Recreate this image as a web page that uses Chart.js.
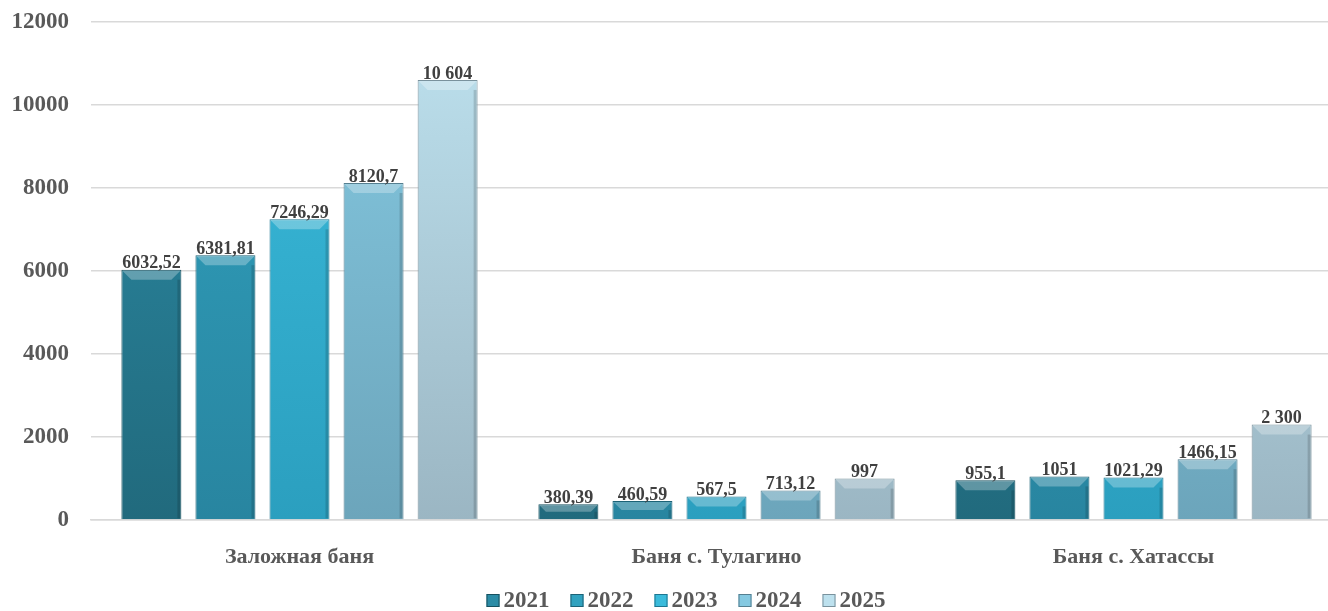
<!DOCTYPE html>
<html>
<head>
<meta charset="utf-8">
<script src="https://cdn.jsdelivr.net/npm/chart.js@4"></script>
<style>
  html, body { margin: 0; padding: 0; background: #fff; overflow: hidden; }
  #wrap { width: 1342px; height: 611px; }
</style>
</head>
<body>
<div id="wrap"><canvas id="myChart"></canvas></div>
<script>
var categories = ["Заложная баня", "Баня с. Тулагино", "Баня с. Хатассы"];
var years = ["2021", "2022", "2023", "2024", "2025"];
var values2021 = [6032.52, 380.39, 955.1];
var values2022 = [6381.81, 460.59, 1051];
var values2023 = [7246.29, 567.5, 1021.29];
var values2024 = [8120.7, 713.12, 1466.15];
var values2025 = [10604, 997, 2300];
var shownLabels = [
  ["6032,52", "380,39", "955,1"],
  ["6381,81", "460,59", "1051"],
  ["7246,29", "567,5", "1021,29"],
  ["8120,7", "713,12", "1466,15"],
  ["10 604", "997", "2 300"]
];
var yTicks = [0, 2000, 4000, 6000, 8000, 10000, 12000];

var topColors = ["#2c8ca6", "#31a2bf", "#3abbdb", "#85c9e1", "#bde1ee"];
var bottomColors = ["#216a7d", "#2885a0", "#2b9fbf", "#6ca5bb", "#9bb6c3"];
var edgeColors = ["#17505f", "#1d6276", "#1f7690", "#557f90", "#7a929d"];

var serif = '"Liberation Serif", "Times New Roman", serif';

function barFill(i) {
  return function (c) {
    var area = c.chart.chartArea;
    if (!area) return topColors[i];
    var g = c.chart.ctx.createLinearGradient(0, area.top, 0, area.bottom);
    g.addColorStop(0, topColors[i]);
    g.addColorStop(1, bottomColors[i]);
    return g;
  };
}

var allValues = [values2021, values2022, values2023, values2024, values2025];
var datasets = years.map(function (y, i) {
  return {
    label: y,
    data: allValues[i],
    backgroundColor: barFill(i),
    borderColor: edgeColors[i],
    borderWidth: 1,
    barPercentage: 0.81,
    categoryPercentage: 0.888
  };
});

// bevel on the bars, value labels and the legend row
var extras = {
  id: 'extras',
  afterDatasetsDraw: function (chart) {
    var ctx = chart.ctx;
    ctx.save();
    chart.data.datasets.forEach(function (ds, i) {
      chart.getDatasetMeta(i).data.forEach(function (bar) {
        var l = bar.x - bar.width / 2 + 1, r = bar.x + bar.width / 2 - 1;
        var t = bar.y + 1, b = bar.base - 1;
        var bv = Math.min(9, (b - t) / 2);
        ctx.fillStyle = 'rgba(255,255,255,0.28)';
        ctx.beginPath();
        ctx.moveTo(l, t); ctx.lineTo(r, t); ctx.lineTo(r - bv, t + bv); ctx.lineTo(l + bv, t + bv);
        ctx.closePath(); ctx.fill();
        ctx.fillStyle = 'rgba(0,0,0,0.15)';
        ctx.fillRect(r - 3, t + bv, 3, b - t - bv);
      });
    });
    ctx.font = 'bold 18px ' + serif;
    ctx.fillStyle = '#404040';
    ctx.textAlign = 'center';
    ctx.textBaseline = 'bottom';
    chart.data.datasets.forEach(function (ds, i) {
      chart.getDatasetMeta(i).data.forEach(function (bar, j) {
        ctx.fillText(shownLabels[i][j], bar.x, bar.y + 3);
      });
    });

    // legend
    ctx.font = 'bold 23px ' + serif;
    ctx.textAlign = 'left';
    ctx.textBaseline = 'middle';
    var step = 84;
    var total = step * (years.length - 1) + 17 + ctx.measureText(years[years.length - 1]).width;
    var x0 = 686 - total / 2;
    var yc = 600;
    years.forEach(function (y, i) {
      var x = x0 + i * step;
      ctx.fillStyle = topColors[i];
      ctx.fillRect(x, yc - 6, 13, 13);
      ctx.strokeStyle = edgeColors[i];
      ctx.lineWidth = 1;
      ctx.strokeRect(x + 0.5, yc - 5.5, 12, 12);
      ctx.fillStyle = '#595959';
      ctx.fillText(y, x + 17, yc + 1);
    });
    ctx.restore();
  }
};

var ctx = document.getElementById('myChart').getContext('2d');
var myChart = new Chart(ctx, {
  type: 'bar',
  data: { labels: categories, datasets: datasets },
  plugins: [extras],
  options: {
    responsive: true,
    maintainAspectRatio: false,
    animation: false,
    layout: { padding: { top: 22, right: 0, left: 3, bottom: 0 } },
    scales: {
      x: {
        grid: { display: false },
        border: { color: '#d9d9d9', width: 1.5 },
        afterFit: function (axis) { axis.height = 91; axis.paddingRight = 0; },
        ticks: {
          color: '#595959',
          padding: 16,
          font: { family: serif, size: 22, weight: 'bold' }
        }
      },
      y: {
        min: 0,
        max: 12000,
        afterBuildTicks: function (axis) {
          axis.ticks = yTicks.map(function (v) { return { value: v }; });
        },
        afterFit: function (axis) { axis.width = 88; axis.paddingTop = 0; },
        grid: { color: '#d9d9d9', lineWidth: 1.5, drawTicks: true, tickLength: 8, tickColor: '#ffffff' },
        border: { display: false },
        ticks: {
          color: '#595959',
          padding: 14,
          callback: function (v) { return String(v); },
          font: { family: serif, size: 23, weight: 'bold' }
        }
      }
    },
    plugins: {
      legend: { display: false },
      tooltip: { enabled: false }
    }
  }
});
</script>
</body>
</html>
